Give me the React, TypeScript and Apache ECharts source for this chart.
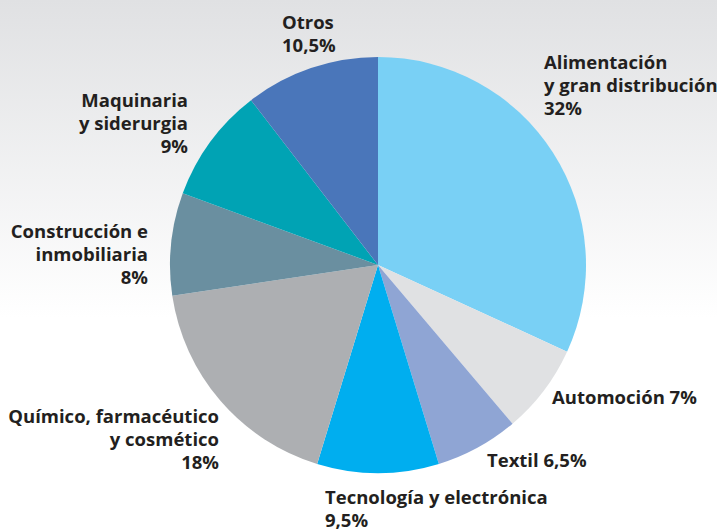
import React, { useEffect, useRef } from "react";
import * as echarts from "echarts";

const categories = [
  "Alimentación\ny gran distribución",
  "Automoción",
  "Textil",
  "Tecnología y electrónica",
  "Químico, farmacéutico\ny cosmético",
  "Construcción e\ninmobiliaria",
  "Maquinaria\ny siderurgia",
  "Otros",
];
const values = [32, 7, 6.5, 9.5, 18, 8, 9, 10.5];
const valueLabels = ["32%", "7%", "6,5%", "9,5%", "18%", "8%", "9%", "10,5%"];
const inlineValue = [false, true, true, false, false, false, false, false];
const colors = ["#79d0f5", "#e0e1e3", "#8fa5d4", "#00aeef", "#adafb2", "#6a8fa0", "#00a3b4", "#4a76ba"];

// label anchor placement (x, y of text top, alignment)
const labelPlaces = [
  { x: 544, y: 50, align: "left" },
  { x: 552, y: 385, align: "left" },
  { x: 487, y: 448, align: "left" },
  { x: 325, y: 485, align: "left" },
  { x: 219, y: 404, align: "right" },
  { x: 148, y: 219, align: "right" },
  { x: 188, y: 88, align: "right" },
  { x: 282, y: 10, align: "left" },
];

export default function App() {
  const ref = useRef<HTMLDivElement>(null);
  useEffect(() => {
    const chart = echarts.init(ref.current!, null, { renderer: "svg" });
    chart.setOption({
      animation: false,
      backgroundColor: {
        type: "linear",
        x: 0,
        y: 0,
        x2: 0,
        y2: 1,
        colorStops: [
          { offset: 0, color: "#e0e1e3" },
          { offset: 0.6, color: "#ffffff" },
          { offset: 1, color: "#ffffff" },
        ],
      },
      series: [
        {
          type: "pie",
          center: [378, 265],
          radius: 208,
          startAngle: 90,
          clockwise: true,
          silent: true,
          itemStyle: { borderWidth: 0 },
          label: {
            show: true,
            color: "#231f20",
            fontFamily: "Open Sans",
            fontWeight: "bold",
            fontSize: 18.5,
            lineHeight: 23,
            overflow: "none",
            width: 400,
            formatter: (p: any) =>
              inlineValue[p.dataIndex]
                ? `${categories[p.dataIndex]} ${valueLabels[p.dataIndex]}`
                : `${categories[p.dataIndex]}\n${valueLabels[p.dataIndex]}`,
          },
          labelLine: { show: false },
          labelLayout: (params: any) => {
            const pl = labelPlaces[params.dataIndex];
            return {
              x: pl.x,
              y: pl.y,
              align: pl.align,
              verticalAlign: "top",
              hideOverlap: false,
              moveOverlap: false,
            };
          },
          data: values.map((v, i) => ({
            name: categories[i],
            value: v,
            itemStyle: { color: colors[i] },
            label: { textAlign: labelPlaces[i].align, align: labelPlaces[i].align },
          })),
        },
      ],
    });
    return () => chart.dispose();
  }, []);
  return (
    <div
      ref={ref}
      style={{ position: "absolute", left: 0, top: 0, width: 717, height: 530 }}
    />
  );
}
